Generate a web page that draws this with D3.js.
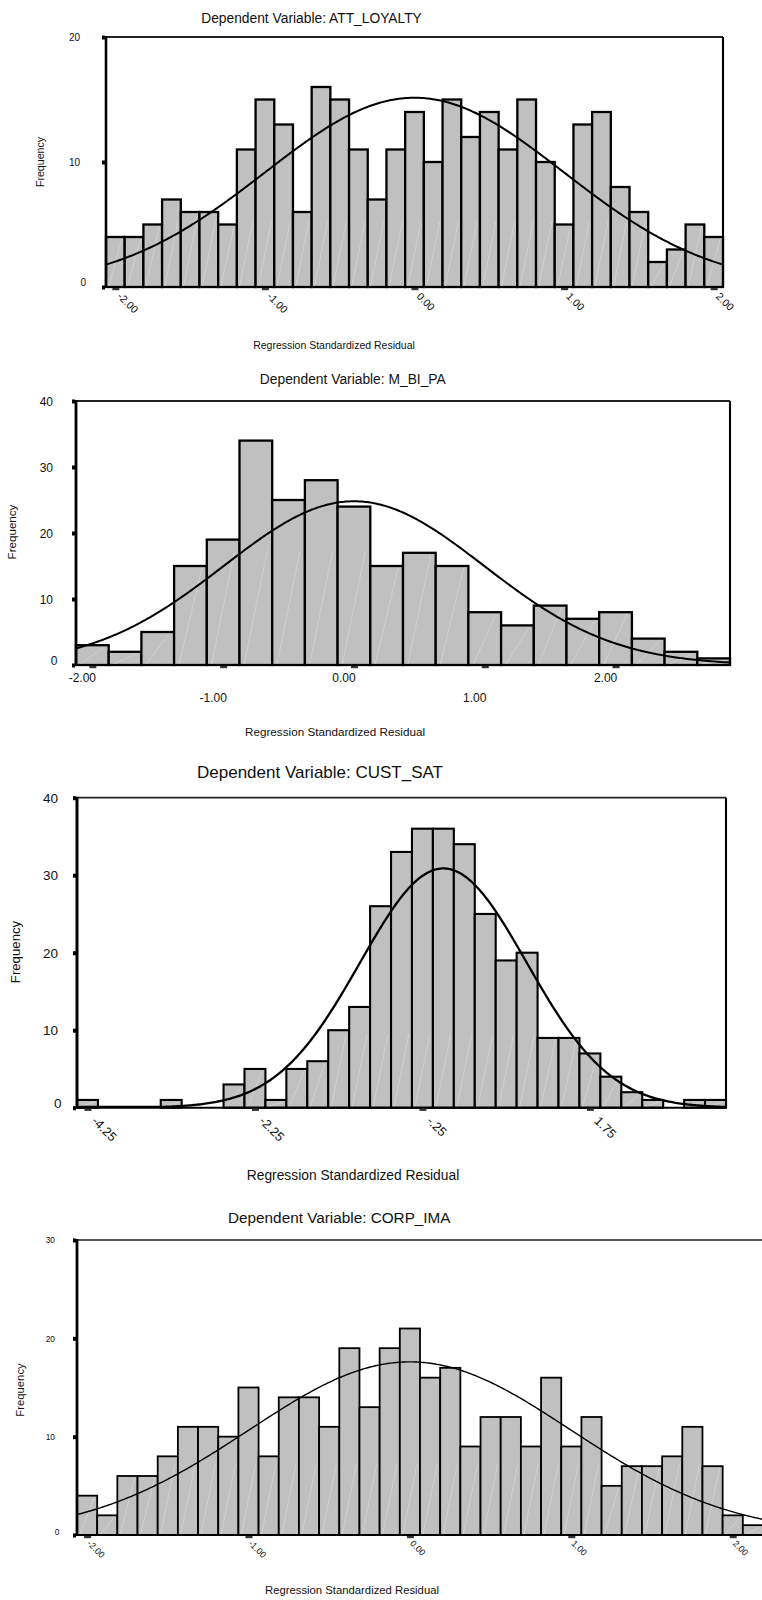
<!DOCTYPE html>
<html>
<head>
<meta charset="utf-8">
<script src="https://cdn.jsdelivr.net/npm/d3@7"></script>
<style>
  body { margin: 0; background: #fff; }
  svg { display: block; }
  text { font-family: "Liberation Sans", Arial, Helvetica, sans-serif; fill: #111; }
</style>
</head>
<body>
<svg id="chart" width="762" height="1600"></svg>
<script>
// ---- Histogram counts of regression standardized residuals, one array per model ----
const attLoyaltyCounts = [4,4,5,7,6,6,5,11,15,13,6,16,15,11,7,11,14,10,15,12,14,11,15,10,5,13,14,8,6,2,3,5,4];
const mBiPaCounts      = [3,2,5,15,19,34,25,28,24,15,17,15,8,6,9,7,8,4,2,1];
const custSatCounts    = [1,0,0,0,1,0,0,3,5,1,5,6,10,13,26,33,36,36,34,25,19,20,9,9,7,4,2,1,0,1,1];
const corpImaCounts    = [4,2,6,6,8,11,11,10,15,8,14,14,11,19,13,19,21,16,17,9,12,12,9,16,9,12,5,7,7,8,11,7,2,1];

// Lower edge of the first bin and bin width for each histogram
const attLoyaltyBins = { start: -2.0625, width: 0.125 };
const mBiPaBins      = { start: -2.125,  width: 0.25 };
const custSatBins    = { start: -4.375,  width: 0.25 };
const corpImaBins    = { start: -2.0625, width: 0.125 };

// Axis ticks
const attLoyaltyXTicks = [-2, -1, 0, 1, 2];
const attLoyaltyXLabels = ["-2.00", "-1.00", "0.00", "1.00", "2.00"];
const attLoyaltyYTicks = [0, 10, 20];

const mBiPaXTicks = [-2, -1, 0, 1, 2];
const mBiPaXLabels = ["-2.00", "-1.00", "0.00", "1.00", "2.00"];
const mBiPaYTicks = [0, 10, 20, 30, 40];

const custSatXTicks = [-4.25, -2.25, -0.25, 1.75];
const custSatXLabels = ["-4.25", "-2.25", "-.25", "1.75"];
const custSatYTicks = [0, 10, 20, 30, 40];

const corpImaXTicks = [-2, -1, 0, 1, 2];
const corpImaXLabels = ["-2.00", "-1.00", "0.00", "1.00", "2.00"];
const corpImaYTicks = [0, 10, 20, 30];

// Normal curve parameters (mean, std. deviation) of the residuals
const attLoyaltyNormal = { mean: 0, sd: 0.998 };
const mBiPaNormal      = { mean: 0, sd: 0.993 };
const custSatNormal    = { mean: 0, sd: 0.995 };
const corpImaNormal    = { mean: 0, sd: 0.997 };

const titles = [
  "Dependent Variable: ATT_LOYALTY",
  "Dependent Variable: M_BI_PA",
  "Dependent Variable: CUST_SAT",
  "Dependent Variable: CORP_IMA"
];
const yAxisTitle = "Frequency";
const xAxisTitle = "Regression Standardized Residual";

// ---- Layout of the four panels ----
const panels = [
  {
    counts: attLoyaltyCounts, bins: attLoyaltyBins, normal: attLoyaltyNormal,
    xTicks: attLoyaltyXTicks, xLabels: attLoyaltyXLabels, yTicks: attLoyaltyYTicks, yMax: 20,
    title: titles[0],
    box: { left: 106, right: 723, top: 37, bottom: 287 },
    titlePos: [311.5, 18, 13.8], yTitlePos: [40, 162, 10.6], xTitlePos: [334, 345, 10.5],
    yFont: 10, yGap: 22, zeroShift: [6, -5],
    xFont: 10.5, xRot: true, xLabelOffset: [1, 10],
    axisW: 2.6, frameW: 1.8, barW: 2.3, curveW: 2
  },
  {
    counts: mBiPaCounts, bins: mBiPaBins, normal: mBiPaNormal,
    xTicks: mBiPaXTicks, xLabels: mBiPaXLabels, yTicks: mBiPaYTicks, yMax: 40,
    title: titles[1],
    box: { left: 76, right: 730, top: 401, bottom: 665 },
    titlePos: [352.8, 379.3, 13.8], yTitlePos: [12, 532, 11.6], xTitlePos: [335, 732.3, 11.7],
    yFont: 12, yGap: 19, zeroShift: [4.5, -5],
    xFont: 12, xRot: false, xRows: [13, 33], xShift: -10.5,
    axisW: 2.8, frameW: 1.8, barW: 2.3, curveW: 2
  },
  {
    counts: custSatCounts, bins: custSatBins, normal: custSatNormal,
    xTicks: custSatXTicks, xLabels: custSatXLabels, yTicks: custSatYTicks, yMax: 40,
    title: titles[2],
    box: { left: 77, right: 726, top: 797.7, bottom: 1107.7 },
    titlePos: [320, 771.7, 17], yTitlePos: [15, 952, 13.2], xTitlePos: [353, 1175, 13.8],
    yFont: 13.5, yGap: 15, zeroShift: [3.5, -5],
    xFont: 12.7, xRot: true, xLabelOffset: [3, 14],
    axisW: 3, frameW: 1.8, barW: 2.1, curveW: 2.3
  },
  {
    counts: corpImaCounts, bins: corpImaBins, normal: corpImaNormal,
    xTicks: corpImaXTicks, xLabels: corpImaXLabels, yTicks: corpImaYTicks, yMax: 30,
    title: titles[3],
    box: { left: 77, right: 763, top: 1240, bottom: 1535 },
    titlePos: [339.3, 1218, 15.3], yTitlePos: [20, 1390, 11.3], xTitlePos: [352, 1590, 11.3],
    yFont: 8.4, yGap: 18, zeroShift: [4.3, -3.3],
    xFont: 9, xRot: true, xLabelOffset: [-1, 9],
    axisW: 2.8, frameW: 1.4, barW: 1.8, curveW: 1.4
  }
];

const svg = d3.select("#chart");
svg.append("rect").attr("width", 762).attr("height", 1600).attr("fill", "#fff");

function drawPanel(p) {
  const g = svg.append("g");
  const { left, right, top, bottom } = p.box;
  const n = p.counts.length;
  const x = d3.scaleLinear()
    .domain([p.bins.start, p.bins.start + n * p.bins.width])
    .range([left, right]);
  const y = d3.scaleLinear().domain([0, p.yMax]).range([bottom, top]);

  // bars (empty bins are left blank)
  const bars = p.counts
    .map((c, i) => ({ c, x0: p.bins.start + i * p.bins.width, x1: p.bins.start + (i + 1) * p.bins.width }))
    .filter(d => d.c > 0);

  g.append("g").selectAll("rect").data(bars).join("rect")
    .attr("x", d => x(d.x0))
    .attr("y", d => y(d.c))
    .attr("width", d => x(d.x1) - x(d.x0))
    .attr("height", d => y(0) - y(d.c))
    .attr("fill", "#c0c0c0")
    .attr("stroke", "#000")
    .attr("stroke-width", p.barW);

  // faint light streak inside each bar
  g.append("g").selectAll("line").data(bars).join("line")
    .attr("x1", d => x(d.x0) + 0.15 * (x(d.x1) - x(d.x0)))
    .attr("y1", y(0) - 1)
    .attr("x2", d => x(d.x1) - 0.15 * (x(d.x1) - x(d.x0)))
    .attr("y2", d => Math.max(y(d.c) + 2, y(0) - 3.5 * (x(d.x1) - x(d.x0))))
    .attr("stroke", "#e4e4e4")
    .attr("stroke-width", 0.6)
    .attr("opacity", 0.8);

  // frame: top, right, bottom
  g.append("line").attr("x1", left).attr("x2", right).attr("y1", top).attr("y2", top)
    .attr("stroke", "#222").attr("stroke-width", p.frameW);
  g.append("line").attr("x1", right).attr("x2", right).attr("y1", top).attr("y2", bottom)
    .attr("stroke", "#000").attr("stroke-width", p.frameW + 0.3);
  g.append("line").attr("x1", left).attr("x2", right).attr("y1", bottom).attr("y2", bottom)
    .attr("stroke", "#000").attr("stroke-width", 2);

  // fitted normal curve: N * binWidth * density
  const total = d3.sum(p.counts);
  const [d0, d1] = x.domain();
  const xs = d3.range(0, 401).map(i => d0 + (d1 - d0) * i / 400);
  const curve = xs.map(v => {
    const z = (v - p.normal.mean) / p.normal.sd;
    return [v, total * p.bins.width * Math.exp(-0.5 * z * z) / (p.normal.sd * Math.sqrt(2 * Math.PI))];
  });
  g.append("path")
    .datum(curve)
    .attr("fill", "none")
    .attr("stroke", "#000")
    .attr("stroke-width", p.curveW)
    .attr("stroke-linejoin", "round")
    .attr("d", d3.line().x(d => x(d[0])).y(d => Math.min(y(d[1]), y(0) - 0.8)));

  // y axis: square tick marks and labels
  const yAxis = d3.axisLeft(y).tickValues(p.yTicks).tickSize(4).tickPadding(p.yGap)
    .tickFormat(d3.format("d"));
  const ya = g.append("g").attr("transform", `translate(${left},0)`).call(yAxis);
  ya.select(".domain").remove();
  ya.selectAll(".tick line").attr("stroke", "#000").attr("stroke-width", 4).attr("x1", -1);
  ya.selectAll(".tick text")
    .attr("font-size", p.yFont)
    .attr("font-family", "Liberation Sans, Arial, sans-serif")
    .attr("fill", "#111")
    .attr("dy", "0.35em")
    .attr("dx", d => d === 0 ? p.zeroShift[0] : 0)
    .attr("transform", d => d === 0 ? `translate(0,${p.zeroShift[1]})` : null);

  // thick left axis line
  g.append("line").attr("x1", left).attr("x2", left).attr("y1", top - 1).attr("y2", bottom + 1)
    .attr("stroke", "#000").attr("stroke-width", p.axisW);

  // x axis: short dashes below the baseline and labels
  const labelOf = new Map(p.xTicks.map((t, i) => [t, p.xLabels[i]]));
  const xAxis = d3.axisBottom(x).tickValues(p.xTicks).tickSize(2.2).tickFormat(d => labelOf.get(d));
  const xa = g.append("g").attr("transform", `translate(0,${bottom + 1})`).call(xAxis);
  xa.select(".domain").remove();
  xa.selectAll(".tick line").attr("stroke", "#333").attr("stroke-width", 7);
  const xt = xa.selectAll(".tick text")
    .attr("font-size", p.xFont)
    .attr("font-family", "Liberation Sans, Arial, sans-serif")
    .attr("fill", "#111");
  if (p.xRot) {
    xt.attr("x", 0).attr("y", 0).attr("dy", 0)
      .attr("text-anchor", "start")
      .attr("transform", `translate(${p.xLabelOffset[0]},${p.xLabelOffset[1] - 1}) rotate(45)`);
  } else {
    xt.attr("x", p.xShift).attr("dy", 0)
      .attr("text-anchor", "middle")
      .attr("y", (d, i) => p.xRows[i % 2] - 1)
      .attr("dominant-baseline", "central");
  }

  // titles
  g.append("text").attr("x", p.titlePos[0]).attr("y", p.titlePos[1]).attr("dy", "0.35em")
    .attr("text-anchor", "middle").attr("font-size", p.titlePos[2]).text(p.title);
  g.append("text")
    .attr("transform", `translate(${p.yTitlePos[0]},${p.yTitlePos[1]}) rotate(-90)`)
    .attr("dy", "0.35em").attr("text-anchor", "middle").attr("font-size", p.yTitlePos[2])
    .text(yAxisTitle);
  g.append("text").attr("x", p.xTitlePos[0]).attr("y", p.xTitlePos[1]).attr("dy", "0.35em")
    .attr("text-anchor", "middle").attr("font-size", p.xTitlePos[2]).text(xAxisTitle);
}

panels.forEach(drawPanel);
</script>
</body>
</html>
